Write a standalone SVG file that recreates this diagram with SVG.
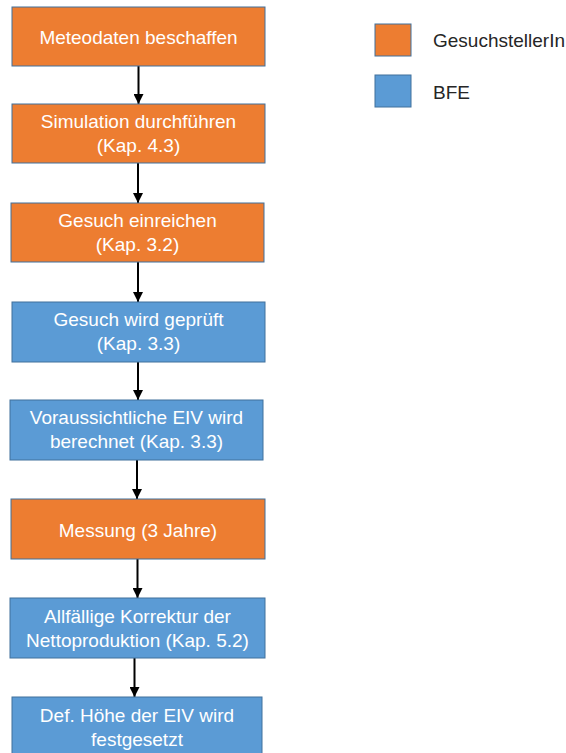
<svg xmlns="http://www.w3.org/2000/svg" width="566" height="753" viewBox="0 0 566 753">
<style>
.o{fill:#ED7D31;stroke:#41719C;stroke-width:1}
.b{fill:#5B9BD5;stroke:#41719C;stroke-width:1}
.t{font-family:"Liberation Sans",Arial,sans-serif;font-size:19px;fill:#ffffff;text-anchor:middle}
.l{font-family:"Liberation Sans",Arial,sans-serif;font-size:19px;fill:#262626}
.c{stroke:#000;stroke-width:2;fill:none;marker-end:url(#ah)}
</style>
<defs>
<marker id="ah" viewBox="0 0 10 10" refX="10" refY="5" markerWidth="5" markerHeight="5" orient="auto" markerUnits="strokeWidth">
<path d="M0,0 L10,5 L0,10 z" fill="#000"/>
</marker>
</defs>
<rect width="566" height="753" fill="#fff"/>
<g id="connectors">
<line class="c" x1="138.5" y1="66" x2="138.5" y2="104"/>
<line class="c" x1="138" y1="163" x2="138" y2="203"/>
<line class="c" x1="138" y1="262" x2="138" y2="302"/>
<line class="c" x1="138" y1="362" x2="138" y2="400"/>
<line class="c" x1="137" y1="460" x2="137" y2="499"/>
<line class="c" x1="137.5" y1="559" x2="137.5" y2="598"/>
<line class="c" x1="134.5" y1="658" x2="134.5" y2="697"/>
</g>
<g id="n1"><rect class="o" x="12" y="7" width="253" height="59"/><text class="t" x="138.5" y="44">Meteodaten beschaffen</text></g>
<g id="n2"><rect class="o" x="12" y="104" width="253" height="59"/><text class="t" x="138.5" y="128">Simulation durchführen</text><text class="t" x="138.5" y="152">(Kap. 4.3)</text></g>
<g id="n3"><rect class="o" x="11" y="203" width="253" height="59"/><text class="t" x="137.5" y="227">Gesuch einreichen</text><text class="t" x="137.5" y="251">(Kap. 3.2)</text></g>
<g id="n4"><rect class="b" x="12" y="302" width="253" height="60"/><text class="t" x="138.5" y="326">Gesuch wird geprüft</text><text class="t" x="138.5" y="350">(Kap. 3.3)</text></g>
<g id="n5"><rect class="b" x="10" y="400" width="253" height="60"/><text class="t" x="136.5" y="424">Voraussichtliche EIV wird</text><text class="t" x="136.5" y="448">berechnet (Kap. 3.3)</text></g>
<g id="n6"><rect class="o" x="11" y="499" width="254" height="60"/><text class="t" x="138" y="537">Messung (3 Jahre)</text></g>
<g id="n7"><rect class="b" x="10" y="598" width="255" height="60"/><text class="t" x="137.5" y="623">Allfällige Korrektur der</text><text class="t" x="137.5" y="647">Nettoproduktion (Kap. 5.2)</text></g>
<g id="n8"><rect class="b" x="12" y="697" width="250" height="60"/><text class="t" x="137" y="722">Def. Höhe der EIV wird</text><text class="t" x="137" y="746">festgesetzt</text></g>
<g id="legend">
<rect class="o" x="375" y="24" width="36" height="32"/><text class="l" x="433" y="47">GesuchstellerIn</text>
<rect class="b" x="375" y="75" width="36" height="32"/><text class="l" x="433" y="99">BFE</text>
</g>
</svg>
